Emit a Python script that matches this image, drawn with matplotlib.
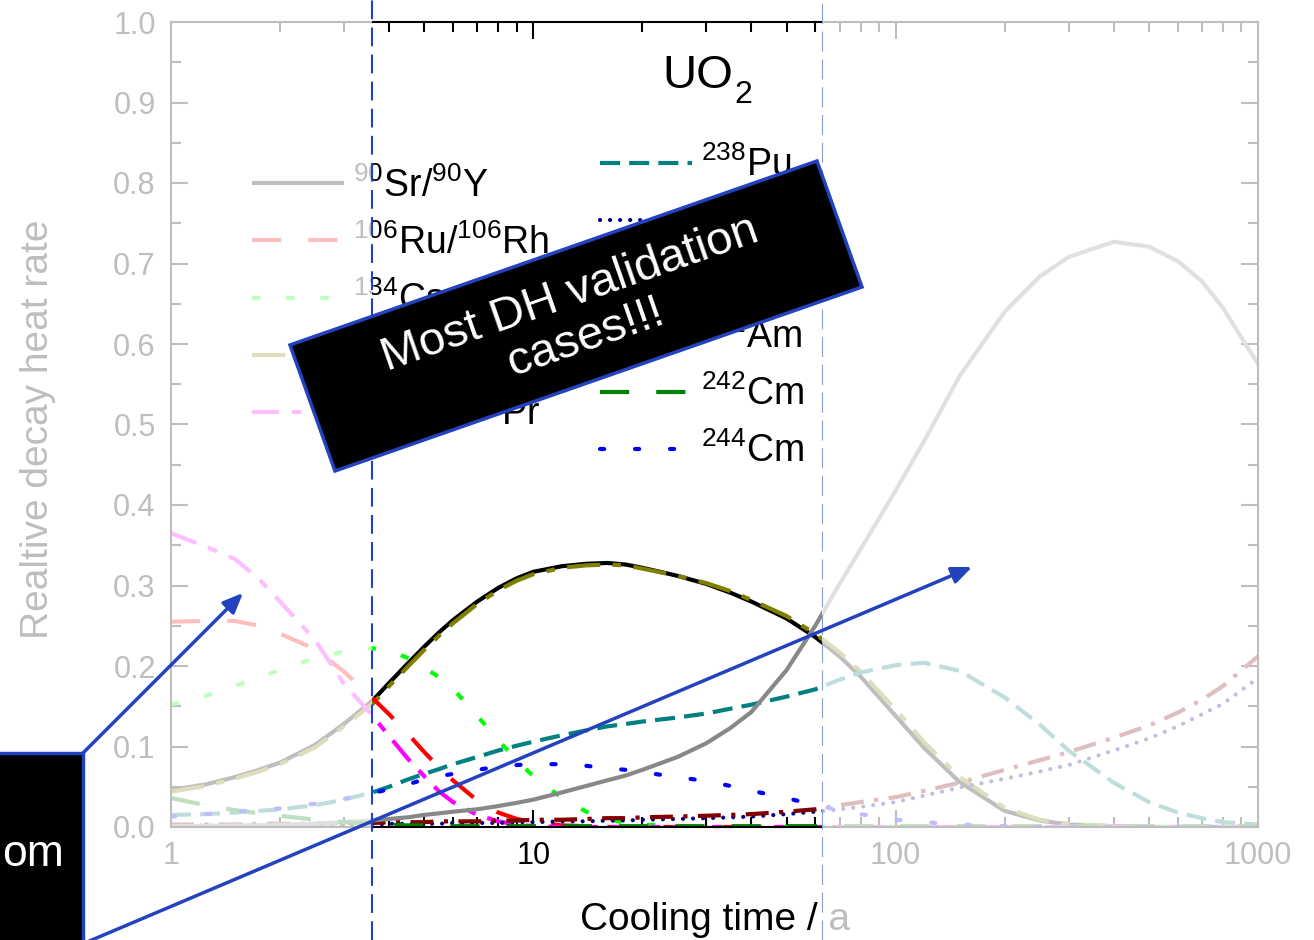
import matplotlib
matplotlib.use('Agg')
import matplotlib.pyplot as plt
from matplotlib.patches import Rectangle, Polygon, FancyArrowPatch
from matplotlib.lines import Line2D
from matplotlib.ticker import (FixedLocator, FixedFormatter, MultipleLocator,
                               LogLocator, NullFormatter, FormatStrFormatter)

plt.rcParams['font.family'] = ['Liberation Sans', 'DejaVu Sans']
plt.rcParams['mathtext.fontset'] = 'custom'
plt.rcParams['mathtext.rm'] = 'Liberation Sans'
plt.rcParams['mathtext.it'] = 'Liberation Sans:italic'
plt.rcParams['mathtext.bf'] = 'Liberation Sans:bold'

# ---------------- data ----------------
years = [1, 1.25, 1.5, 1.75, 2, 2.5, 3, 3.6, 4, 4.5, 5, 5.5, 6, 7, 8, 9, 10, 12, 14, 16,
         18, 20, 25, 30, 35, 40, 50, 60, 70, 80, 100, 120, 150, 200, 250, 300, 400, 500,
         600, 700, 800, 1000]

sr90 = [0.046, 0.053, 0.062, 0.071, 0.080, 0.102, 0.128, 0.157, 0.179, 0.203, 0.224, 0.242,
        0.257, 0.280, 0.297, 0.309, 0.317, 0.324, 0.327, 0.328, 0.326, 0.322, 0.312, 0.302,
        0.291, 0.280, 0.259, 0.236, 0.212, 0.187, 0.138, 0.098, 0.056, 0.020, 0.008, 0.003,
        0.001, 0, 0, 0, 0, 0]
ru106 = [0.255, 0.256, 0.256, 0.250, 0.240, 0.221, 0.193, 0.160, 0.140, 0.116, 0.093, 0.074,
         0.058, 0.033, 0.018, 0.010, 0.006, 0.002, 0.001] + [0] * 23
cs134 = [0.152, 0.163, 0.175, 0.186, 0.195, 0.210, 0.218, 0.222, 0.219, 0.210, 0.198, 0.186,
         0.172, 0.138, 0.108, 0.083, 0.063, 0.036, 0.019, 0.010, 0.005, 0.003, 0.001] + [0] * 19
cs137 = [0.044, 0.051, 0.060, 0.069, 0.078, 0.099, 0.125, 0.153, 0.175, 0.199, 0.220, 0.238,
         0.253, 0.277, 0.294, 0.306, 0.314, 0.322, 0.325, 0.326, 0.325, 0.321, 0.312, 0.303,
         0.293, 0.282, 0.262, 0.240, 0.217, 0.193, 0.146, 0.105, 0.062, 0.024, 0.009, 0.004,
         0.001, 0, 0, 0, 0, 0]
ce144 = [0.365, 0.348, 0.333, 0.308, 0.280, 0.232, 0.178, 0.138, 0.113, 0.085, 0.063, 0.044,
         0.031, 0.015, 0.007, 0.003, 0.001] + [0] * 25
pu238 = [0.015, 0.016, 0.018, 0.020, 0.022, 0.027, 0.034, 0.043, 0.050, 0.059, 0.066, 0.072,
         0.078, 0.087, 0.095, 0.101, 0.106, 0.114, 0.120, 0.125, 0.128, 0.131, 0.136, 0.141,
         0.147, 0.152, 0.162, 0.171, 0.183, 0.192, 0.201, 0.204, 0.194, 0.161, 0.127, 0.095,
         0.055, 0.031, 0.018, 0.011, 0.006, 0.003]
pu239 = [0.002, 0.002, 0.002, 0.002, 0.002, 0.003, 0.003, 0.003, 0.004, 0.004, 0.004, 0.004,
         0.005, 0.005, 0.005, 0.006, 0.006, 0.007, 0.007, 0.008, 0.008, 0.009, 0.010, 0.011,
         0.012, 0.013, 0.016, 0.019, 0.022, 0.025, 0.031, 0.039, 0.049, 0.060, 0.069, 0.077,
         0.095, 0.110, 0.125, 0.140, 0.153, 0.185]
pu240 = [0.003, 0.003, 0.003, 0.004, 0.004, 0.004, 0.005, 0.005, 0.006, 0.006, 0.006, 0.007,
         0.007, 0.007, 0.008, 0.008, 0.009, 0.009, 0.010, 0.011, 0.011, 0.012, 0.013, 0.014,
         0.015, 0.016, 0.019, 0.022, 0.027, 0.031, 0.037, 0.045, 0.055, 0.071, 0.083, 0.093,
         0.111, 0.126, 0.142, 0.158, 0.175, 0.212]
am241 = [0.001, 0.001, 0.002, 0.002, 0.003, 0.004, 0.006, 0.008, 0.010, 0.012, 0.015, 0.017,
         0.019, 0.022, 0.026, 0.030, 0.034, 0.043, 0.051, 0.058, 0.064, 0.071, 0.087, 0.104,
         0.123, 0.143, 0.195, 0.250, 0.302, 0.345, 0.418, 0.480, 0.560, 0.640, 0.684, 0.708,
         0.727, 0.721, 0.703, 0.678, 0.645, 0.575]
cm242 = [0.036, 0.027, 0.021, 0.017, 0.014, 0.009, 0.006, 0.004, 0.003, 0.002, 0.002, 0.001,
         0.001, 0.001, 0.001, 0.001, 0.001] + [0.001] * 25
cm244 = [0.013, 0.016, 0.019, 0.021, 0.023, 0.029, 0.035, 0.042, 0.047, 0.053, 0.059, 0.063,
         0.066, 0.071, 0.075, 0.077, 0.078, 0.078, 0.076, 0.073, 0.071, 0.068, 0.062, 0.057,
         0.051, 0.045, 0.036, 0.027, 0.021, 0.016, 0.009, 0.006, 0.003, 0.001] + [0] * 8

left_labels = [r'$^{90}$Sr/$^{90}$Y', r'$^{106}$Ru/$^{106}$Rh', r'$^{134}$Cs',
               r'$^{137}$Cs/$^{137m}$Ba', r'$^{144}$Ce/$^{144}$Pr']
right_labels = [r'$^{238}$Pu', r'$^{239}$Pu', r'$^{240}$Pu', r'$^{241}$Am',
                r'$^{242}$Cm', r'$^{244}$Cm']
xtick_vals = [1, 10, 100, 1000]
xtick_labels = ['1', '10', '100', '1000']

# ---------------- figure ----------------
W, H = 1314, 940
fig = plt.figure(figsize=(W / 100, H / 100), dpi=100)


def P(x, y):
    return (x / W, 1 - y / H)


ax = fig.add_axes([171 / W, 1 - 827 / H, (1258 - 171) / W, (827 - 22) / H])

LW = 3.0
l_sr, = ax.plot(years, sr90, color='black', lw=LW, solid_capstyle='butt')
l_cs7, = ax.plot(years, cs137, color='#808000', lw=LW, dashes=(8, 3, 2, 3))
l_ru, = ax.plot(years, ru106, color='#FF0000', lw=LW, dashes=(7, 6.5))
l_cs4, = ax.plot(years, cs134, color='#00FF00', lw=LW, dashes=(2, 6.2))
l_ce, = ax.plot(years, ce144, color='#FF00FF', lw=LW, dashes=(6.5, 3, 2.4, 3))
l_p8, = ax.plot(years, pu238, color='#008080', lw=LW, dashes=(4.8, 2.2))
l_p9, = ax.plot(years, pu239, color='#000080', lw=LW, dashes=(0.01, 2.4),
                dash_capstyle='round')
l_p0, = ax.plot(years, pu240, color='#800000', lw=LW, dashes=(5.5, 2.5, 1, 2.5))
l_am, = ax.plot(years, am241, color='#888888', lw=LW)
l_c2, = ax.plot(years, cm242, color='#008000', lw=LW, dashes=(7, 6.5))
l_c4, = ax.plot(years, cm244, color='#0000FF', lw=LW, dashes=(1, 7.4),
                dash_capstyle='round')

ax.set_xscale('log')
ax.set_xlim(1, 1000)
ax.set_ylim(0, 1.0)
ax.xaxis.set_major_locator(FixedLocator(xtick_vals))
ax.xaxis.set_major_formatter(FixedFormatter(xtick_labels))
ax.xaxis.set_minor_locator(LogLocator(base=10, subs=range(2, 10)))
ax.xaxis.set_minor_formatter(NullFormatter())
ax.yaxis.set_major_locator(MultipleLocator(0.1))
ax.yaxis.set_minor_locator(MultipleLocator(0.05))
ax.yaxis.set_major_formatter(FormatStrFormatter('%.1f'))
ax.tick_params(which='both', direction='in', top=True, right=True, width=1.5,
               colors='black', labelsize=22)
ax.tick_params(which='major', length=12)
ax.tick_params(which='minor', length=7)
ax.tick_params(axis='y', pad=11)
ax.tick_params(axis='x', pad=10)
for s in ax.spines.values():
    s.set_linewidth(1.5)
    s.set_color('black')

ax.set_xlabel('Cooling time / a', fontsize=28)
ax.xaxis.set_label_coords(0.5, -0.093)
ax.set_ylabel('Realtive decay heat rate', fontsize=28)
ax.yaxis.set_label_coords(-0.106, 0.494)

ax.text(0.4517, 0.918, 'UO', fontsize=34, va='baseline', ha='left',
        transform=ax.transAxes)
ax.text(0.5182, 0.899, '2', fontsize=23, va='baseline', ha='left',
        transform=ax.transAxes)

leg_kw = dict(frameon=False, fontsize=27, handlelength=2.45, handletextpad=0.25,
              labelspacing=0.52, borderpad=0, borderaxespad=0, loc='upper left')
leg1 = ax.legend([l_sr, l_ru, l_cs4, l_cs7, l_ce], left_labels,
                 bbox_to_anchor=(0.0745, 0.820), **leg_kw)
ax.add_artist(leg1)
ax.legend([l_p8, l_p9, l_p0, l_am, l_c2, l_c4], right_labels,
          bbox_to_anchor=(0.3947, 0.845), **leg_kw)

# ---------------- slide overlays ----------------
fig.add_artist(Rectangle((0, 0), 372 / W, 1, transform=fig.transFigure,
                         facecolor='white', edgecolor='none', alpha=0.75, zorder=3))
fig.add_artist(Rectangle((822 / W, 0), 1 - 822 / W, 1, transform=fig.transFigure,
                         facecolor='white', edgecolor='none', alpha=0.75, zorder=3))

BLUE = '#2342BE'
fig.add_artist(Line2D([372 / W, 372 / W], [0, 1], transform=fig.transFigure,
                      color=BLUE, lw=1.5, dashes=(9, 4), zorder=4))
fig.add_artist(Line2D([822 / W, 822 / W], [0, 1], transform=fig.transFigure,
                      color='#8C9BD9', lw=0.8, dashes=(18, 7), zorder=4))

fig.add_artist(Polygon([P(290, 345), P(817, 161), P(862, 287), P(335, 471)], closed=True,
                       transform=fig.transFigure, facecolor='black', edgecolor=BLUE,
                       lw=2.5, zorder=5))
fig.text(*P(578, 316), 'Most DH validation\ncases!!!', color='white', fontsize=34,
         rotation=19.25, rotation_mode='anchor', ha='center', va='center',
         multialignment='center', linespacing=1.05, zorder=6)

fig.add_artist(Rectangle(P(-10, 945), 93 / W, 192 / H, transform=fig.transFigure,
                         facecolor='black', edgecolor=BLUE, lw=2.5, zorder=5))
fig.text(*P(2, 866), 'om', color='white', fontsize=32, ha='left', va='baseline',
         zorder=6)

for a, b in [((83, 753), (243, 593)), ((80, 945), (972, 567))]:
    fig.add_artist(FancyArrowPatch(P(*a), P(*b), transform=fig.transFigure,
                                   arrowstyle='-|>,head_length=0.4,head_width=0.17',
                                   mutation_scale=30, color=BLUE, lw=2.5,
                                   shrinkA=0, shrinkB=0, zorder=7))

fig.savefig('out.png', dpi=100)
